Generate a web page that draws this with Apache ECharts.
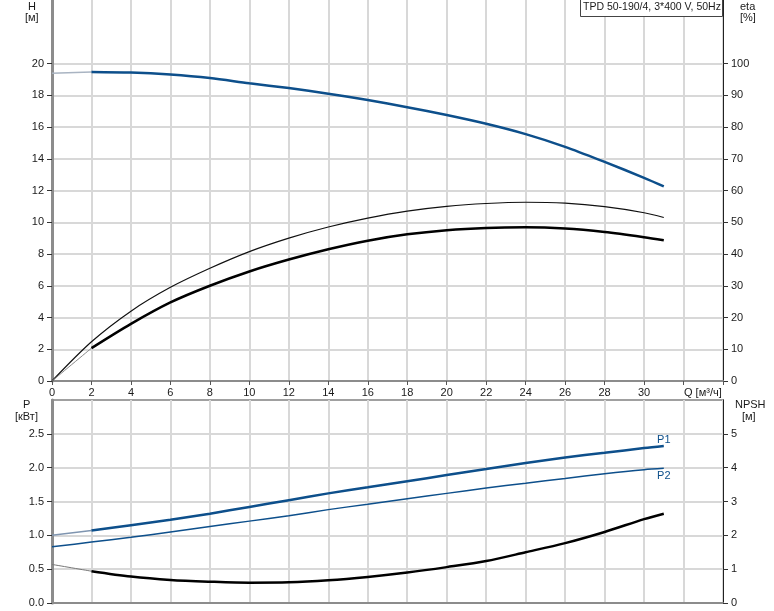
<!DOCTYPE html>
<html><head><meta charset="utf-8">
<script src="https://cdn.jsdelivr.net/npm/echarts@6/dist/echarts.min.js"></script>
<style>html,body{margin:0;padding:0;background:#fff}#c{width:774px;height:611px}</style>
</head><body><div id="c"></div>
<script>
// ---- data ----
const Q       = [0, 2, 4, 6, 8, 10, 12, 14, 16, 18, 20, 22, 24, 26, 28, 30, 31];
const H       = [19.39, 19.47, 19.43, 19.3, 19.08, 18.75, 18.45, 18.1, 17.7, 17.25, 16.75, 16.2, 15.55, 14.75, 13.8, 12.8, 12.26];
const etaP    = [0, 12.35, 22, 29.5, 35.5, 40.75, 45, 48.5, 51.3, 53.5, 55.0, 55.9, 56.3, 56.0, 54.9, 53.0, 51.5];
const etaT    = [0, 10.35, 18, 24.75, 30, 34.5, 38.25, 41.5, 44.2, 46.2, 47.5, 48.2, 48.4, 48.0, 46.9, 45.3, 44.35];
const P1      = [1.00, 1.07, 1.15, 1.23, 1.32, 1.42, 1.52, 1.62, 1.71, 1.80, 1.89, 1.98, 2.07, 2.15, 2.22, 2.29, 2.32];
const P2      = [0.83, 0.90, 0.97, 1.05, 1.13, 1.21, 1.29, 1.38, 1.46, 1.54, 1.62, 1.70, 1.77, 1.84, 1.91, 1.97, 1.99];
const NPSH    = [1.14, 0.94, 0.78, 0.68, 0.63, 0.60, 0.61, 0.67, 0.77, 0.90, 1.06, 1.24, 1.50, 1.77, 2.10, 2.48, 2.64];
const qTicks  = [0, 2, 4, 6, 8, 10, 12, 14, 16, 18, 20, 22, 24, 26, 28, 30];
const hTicks  = [0, 2, 4, 6, 8, 10, 12, 14, 16, 18, 20];
const etaTicks= [0, 10, 20, 30, 40, 50, 60, 70, 80, 90, 100];
const pTicks  = [0, 0.5, 1.0, 1.5, 2.0, 2.5];
const nTicks  = [0, 1, 2, 3, 4, 5];
const title   = 'TPD 50-190/4, 3*400 V, 50Hz';

const BLUE = '#0d4f8b', THIN = '#a9b4c2';
const FONT = 'Liberation Sans, Arial, sans-serif';
const pairs = (ys, from, to) => Q.slice(from, to).map((q, i) => [q, ys[from + i]]);
const N = Q.length;

const gridLine = {show: true, lineStyle: {color: '#d8d8d8', width: 2}};
const lblStyle = {color: '#1a1a1a', fontSize: 11, fontFamily: FONT};

function yAx(grid, pos, min, max, interval, ticks, fmt, split, lineColor) {
  return {
    type: 'value', gridIndex: grid, position: pos, min, max, interval,
    axisLine: {show: true, onZero: false, lineStyle: {color: lineColor, width: pos === 'left' ? 3 : 1}},
    axisTick: {show: true, length: 5, customValues: ticks, lineStyle: {color: '#333'}},
    axisLabel: Object.assign({customValues: ticks, margin: 8,
      formatter: v => ticks.some(t => Math.abs(t - v) < 1e-9) ? fmt(v) : ''}, lblStyle),
    splitLine: split ? gridLine : {show: false}
  };
}

function ln(name, x, y, data, color, width, extra) {
  return Object.assign({
    name, type: 'line', xAxisIndex: x, yAxisIndex: y, data, smooth: 0.3,
    showSymbol: false, symbol: 'none', silent: true,
    lineStyle: {color, width}, z: 5
  }, extra || {});
}

const chart = echarts.init(document.getElementById('c'), null, {renderer: 'canvas'});
chart.setOption({
  animation: false,
  backgroundColor: '#fff',
  grid: [
    {left: 52, right: 51, top: 0, height: 381, containLabel: false},
    {left: 52, right: 51, top: 400, height: 203, containLabel: false,
     show: true, borderColor: '#a0a0a0', borderWidth: 2, backgroundColor: 'transparent'}
  ],
  xAxis: [
    {type: 'value', gridIndex: 0, min: 0, max: 34, interval: 2,
     axisLine: {show: true, onZero: false, lineStyle: {color: '#8c8c8c', width: 2}},
     axisTick: {show: true, length: 4, lineStyle: {color: '#555'}},
     axisLabel: Object.assign({customValues: qTicks, margin: 6,
       formatter: v => v <= 30 ? String(v) : ''}, lblStyle),
     splitLine: gridLine},
    {type: 'value', gridIndex: 1, min: 0, max: 34, interval: 2,
     axisLine: {show: true, onZero: false, lineStyle: {color: '#8c8c8c', width: 2}},
     axisTick: {show: false}, axisLabel: {show: false},
     splitLine: gridLine}
  ],
  yAxis: [
    yAx(0, 'left', 0, 24, 2, hTicks, v => String(v), true, '#8c8c8c'),
    yAx(0, 'right', 0, 120, 10, etaTicks, v => String(v), false, '#222'),
    yAx(1, 'left', 0, 3, 0.5, pTicks, v => v.toFixed(1), true, '#8c8c8c'),
    yAx(1, 'right', 0, 6, 1, nTicks, v => String(v), false, '#222')
  ],
  series: [
    ln('H thin', 0, 0, pairs(H, 0, 2), THIN, 1.5),
    ln('H', 0, 0, pairs(H, 1, N), BLUE, 2.5),
    ln('eta p', 0, 1, pairs(etaP, 0, N), '#111', 1.2),
    ln('eta thin', 0, 1, pairs(etaT, 0, 2), '#888', 1),
    ln('eta', 0, 1, pairs(etaT, 1, N), '#000', 2.5),
    ln('P1 thin', 1, 2, pairs(P1, 0, 2), '#7f95b0', 1.5),
    ln('P1', 1, 2, pairs(P1, 1, N), BLUE, 2.5, {
      endLabel: {show: true, formatter: 'P1', color: BLUE, fontSize: 11, fontFamily: FONT,
                 align: 'center', verticalAlign: 'middle', offset: [0, -6], distance: 0}}),
    ln('P2', 1, 2, pairs(P2, 0, N), BLUE, 1.5, {
      endLabel: {show: true, formatter: 'P2', color: BLUE, fontSize: 11, fontFamily: FONT,
                 align: 'center', verticalAlign: 'middle', offset: [0, 8], distance: 0}}),
    ln('NPSH thin', 1, 3, pairs(NPSH, 0, 2), '#777', 1),
    ln('NPSH', 1, 3, pairs(NPSH, 1, N), '#000', 2.5)
  ],
  graphic: [
    {type: 'text', left: 28, top: 1, style: {text: 'H', font: '11px ' + FONT, fill: '#1a1a1a'}},
    {type: 'text', left: 25, top: 12, style: {text: '[м]', font: '11px ' + FONT, fill: '#1a1a1a'}},
    {type: 'text', left: 740, top: 1, style: {text: 'eta', font: '11px ' + FONT, fill: '#1a1a1a'}},
    {type: 'text', left: 740, top: 12, style: {text: '[%]', font: '11px ' + FONT, fill: '#1a1a1a'}},
    {type: 'text', left: 23, top: 399, style: {text: 'P', font: '11px ' + FONT, fill: '#1a1a1a'}},
    {type: 'text', left: 15, top: 411, style: {text: '[кВт]', font: '11px ' + FONT, fill: '#1a1a1a'}},
    {type: 'text', left: 735, top: 399, style: {text: 'NPSH', font: '11px ' + FONT, fill: '#1a1a1a'}},
    {type: 'text', left: 742, top: 411, style: {text: '[м]', font: '11px ' + FONT, fill: '#1a1a1a'}},
    {type: 'text', left: 684, top: 387, style: {text: 'Q [м³/ч]', font: '11px ' + FONT, fill: '#1a1a1a'}},
    {type: 'rect', left: 580, top: -1, z: 20,
     shape: {width: 142, height: 17}, style: {fill: '#fff', stroke: '#444', lineWidth: 1}},
    {type: 'text', left: 583, top: 2, z: 21, style: {text: title, font: '10.5px ' + FONT, fill: '#1a1a1a'}}
  ]
});
</script></body></html>
